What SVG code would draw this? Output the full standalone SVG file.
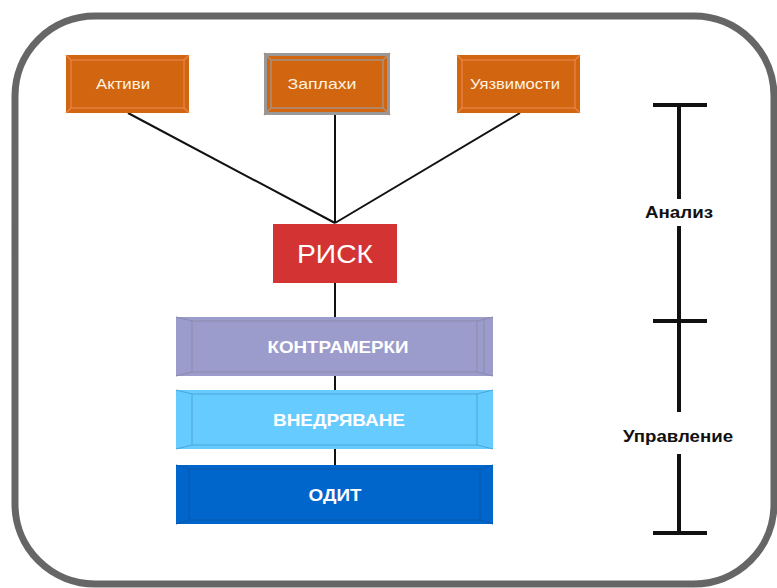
<svg xmlns="http://www.w3.org/2000/svg" width="777" height="588" viewBox="0 0 777 588">
<style>
.frame{fill:#fff;stroke:#666;stroke-width:7}
.org{fill:#D2650F}
.orgb{fill:none;stroke:#E8864A;stroke-width:1.2}
.lbl{font-family:"Liberation Sans",Arial,sans-serif;fill:#FFF3E0;font-size:15px;text-anchor:middle}
.big{font-family:"Liberation Sans",Arial,sans-serif;fill:#fff;font-size:17px;font-weight:bold;text-anchor:middle}
.con{stroke:#111;stroke-width:2;fill:none}
.scale{stroke:#111;stroke-width:4;fill:none}
.sl{font-family:"Liberation Sans",Arial,sans-serif;fill:#111;font-size:16px;font-weight:bold;text-anchor:middle}
.bev{fill:none;stroke-width:1}
</style>
<rect class="frame" x="15" y="16" width="759" height="568" rx="80" ry="80"/>
<g id="connectors">
<line class="con" x1="128" y1="113" x2="335" y2="223"/>
<line class="con" x1="335" y1="115" x2="335" y2="223"/>
<line class="con" x1="520" y1="113" x2="335" y2="223"/>
<line class="con" x1="335" y1="283" x2="335" y2="318"/>
<line class="con" x1="335" y1="376" x2="335" y2="391"/>
<line class="con" x1="335" y1="449" x2="335" y2="466"/>
</g>
<g id="aktivi">
<rect class="org" x="66" y="55" width="123" height="58"/>
<rect class="orgb" x="71" y="60" width="113" height="48"/>
<path class="orgb" d="M66 55L71 60M189 55L184 60M66 113L71 108M189 113L184 108"/>
<text class="lbl" x="123" y="89" textLength="54" lengthAdjust="spacingAndGlyphs">Активи</text>
</g>
<g id="zaplahi">
<rect x="264" y="53" width="126" height="62" fill="#999"/>
<rect class="org" x="267" y="56" width="120" height="56"/>
<rect x="271" y="60" width="112" height="48" fill="none" stroke="#A89080" stroke-width="1.5"/>
<path d="M264 53L271 60M390 53L383 60M264 115L271 108M390 115L383 108" stroke="#A89080" stroke-width="1.5"/>
<text class="lbl" x="322" y="89" textLength="69" lengthAdjust="spacingAndGlyphs">Заплахи</text>
</g>
<g id="uyazvimosti">
<rect class="org" x="457" y="55" width="123" height="58"/>
<rect class="orgb" x="462" y="60" width="113" height="48"/>
<path class="orgb" d="M457 55L462 60M580 55L575 60M457 113L462 108M580 113L575 108"/>
<text class="lbl" x="515" y="89" textLength="90" lengthAdjust="spacingAndGlyphs">Уязвимости</text>
</g>
<g id="risk">
<rect x="273" y="224" width="124" height="59" fill="#D33333"/>
<text x="335" y="263" font-family="'Liberation Sans',Arial,sans-serif" font-size="26" fill="#fff" text-anchor="middle" textLength="76" lengthAdjust="spacingAndGlyphs">РИСК</text>
</g>
<g id="kontramerki">
<rect x="176" y="317" width="317" height="59" fill="#9C9CCC"/>
<rect class="bev" x="192" y="321" width="285" height="51" stroke="#8A8AAA"/>
<path class="bev" stroke="#8A8AAA" d="M176 317L192 321M493 317L477 321M176 376L192 372M493 376L477 372M484 320L484 373"/>
<text class="big" x="338" y="353" textLength="141" lengthAdjust="spacingAndGlyphs">КОНТРАМЕРКИ</text>
</g>
<g id="vnedryavane">
<rect x="176" y="390" width="317" height="59" fill="#66CCFF"/>
<rect class="bev" x="192" y="394" width="285" height="51" stroke="#4AA6D6"/>
<path class="bev" stroke="#4AA6D6" d="M176 390L192 394M493 390L477 394M176 449L192 445M493 449L477 445"/>
<text class="big" x="339" y="426" textLength="132" lengthAdjust="spacingAndGlyphs">ВНЕДРЯВАНЕ</text>
</g>
<g id="odit">
<rect x="176" y="465" width="317" height="59" fill="#0066CC"/>
<rect class="bev" x="189" y="469" width="291" height="51" stroke="#0A58A8"/>
<path class="bev" stroke="#0A58A8" d="M176 465L189 469M493 465L480 469M176 524L189 520M493 524L480 520"/>
<text class="big" x="335" y="501" textLength="53" lengthAdjust="spacingAndGlyphs">ОДИТ</text>
</g>
<g id="scale">
<path class="scale" d="M653 105H707M679 105V199M679 226V533M653 321H707M653 533H707"/>
<rect x="620" y="412" width="120" height="42" fill="#fff"/>
<text class="sl" x="679" y="218" textLength="68" lengthAdjust="spacingAndGlyphs">Анализ</text>
<text class="sl" x="678" y="442" textLength="110" lengthAdjust="spacingAndGlyphs">Управление</text>
</g>
</svg>
